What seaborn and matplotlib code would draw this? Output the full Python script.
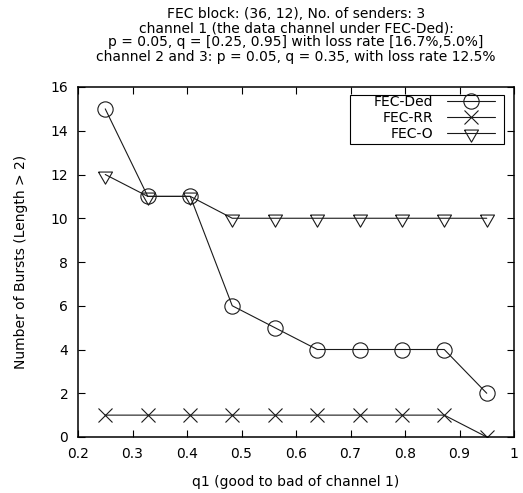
import matplotlib
matplotlib.use("Agg")
import matplotlib.pyplot as plt
from matplotlib.patches import Rectangle
import seaborn as sns
import pandas as pd

# ---- data ----
q1 = [0.25, 0.328, 0.406, 0.483, 0.561, 0.639, 0.717, 0.794, 0.872, 0.95]
fec_ded = [15, 11, 11, 6, 5, 4, 4, 4, 4, 2]
fec_rr = [1, 1, 1, 1, 1, 1, 1, 1, 1, 0]
fec_o = [12, 11, 11, 10, 10, 10, 10, 10, 10, 10]
series_names = ["FEC-Ded", "FEC-RR", "FEC-O"]
xticks = [0.2, 0.3, 0.4, 0.5, 0.6, 0.7, 0.8, 0.9, 1.0]
xticklabels = ["0.2", "0.3", "0.4", "0.5", "0.6", "0.7", "0.8", "0.9", "1"]
yticks = [0, 2, 4, 6, 8, 10, 12, 14, 16]
title_lines = [
    "FEC block: (36, 12), No. of senders: 3",
    "channel 1 (the data channel under FEC-Ded):",
    "p = 0.05, q = [0.25, 0.95] with loss rate [16.7%,5.0%]",
    "channel 2 and 3: p = 0.05, q = 0.35, with loss rate 12.5%",
]

sns.set_theme(style="ticks")
plt.rcParams["font.family"] = ["DejaVu Sans"]
FS = 10
plt.rcParams["font.size"] = FS
plt.rcParams["text.color"] = "black"
plt.rcParams["axes.labelcolor"] = "black"

W, H = 523, 493
L, R, T, B = 78, 514, 87, 437
fig = plt.figure(figsize=(W / 100, H / 100), dpi=100)
ax = fig.add_axes([L / W, 1 - B / H, (R - L) / W, (B - T) / H])

# downward triangle with the data point near its top edge (gnuplot-like)
tri = [(-6.7, 3.3), (6.7, 3.3), (0, -8.3), (-6.7, 3.3)]

styles = [
    dict(marker="o", markersize=11),
    dict(marker="x", markersize=9.5),
    dict(marker=tri, markersize=12.5),
]
ys = [fec_ded, fec_rr, fec_o]
for name, y, st in zip(series_names, ys, styles):
    df = pd.DataFrame({"q1": q1, "v": y})
    sns.lineplot(data=df, x="q1", y="v", ax=ax, color="#1a1a1a", linewidth=0.8,
                 markerfacecolor="none", markeredgecolor="#1a1a1a",
                 markeredgewidth=0.8, label=name, **st)

ax.set_xlim(0.2, 1.0)
ax.set_ylim(0, 16)
ax.set_xticks(xticks)
ax.set_xticklabels(xticklabels)
ax.set_yticks(yticks)
ax.tick_params(direction="in", length=5, width=0.8, top=True, right=True,
               labelsize=FS, pad=7, colors="black")
for s in ax.spines.values():
    s.set_linewidth(1.1)
    s.set_color("black")
ax.set_xlabel("q1 (good to bad of channel 1)", fontsize=FS, labelpad=10, color="black")
ax.set_ylabel("Number of Bursts (Length > 2)", fontsize=FS, labelpad=16, color="black")

# legend (gnuplot style: label then sample), frame drawn to gnuplot key size
leg = ax.legend(loc="upper right", bbox_to_anchor=((495 - L) / (R - L), 1 - (95 - T) / (B - T)),
                markerfirst=False, numpoints=1, frameon=False,
                handlelength=3.45, handletextpad=1.0, labelspacing=0.15,
                borderpad=0.0, borderaxespad=0.0, fontsize=FS)
for t in leg.get_texts():
    t.set_color("black")
ax.add_patch(Rectangle(((350 - L) / (R - L), 1 - (144 - T) / (B - T)),
                       (504 - 350) / (R - L), (144 - 95) / (B - T),
                       transform=ax.transAxes, fill=False, edgecolor="black",
                       linewidth=0.8, zorder=5))

fig.text((L + R) / 2 / W, 1 - 7 / H, "\n".join(title_lines), ha="center", va="top",
         fontsize=FS, linespacing=1.02, color="black")

fig.savefig("out.png", dpi=100)
